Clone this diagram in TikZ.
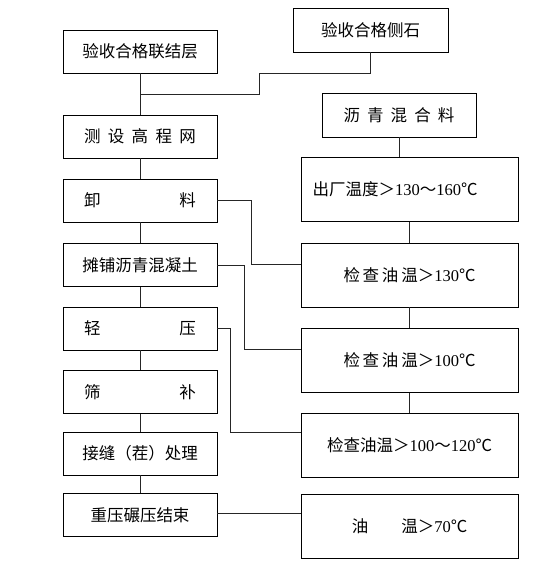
\documentclass[tikz,border=0pt]{standalone}
\usepackage{fontspec}
\setmainfont{Noto Sans CJK SC}
\newfontfamily\digits{Liberation Serif}
\usetikzlibrary{positioning, calc}

\begin{document}
\begin{tikzpicture}[x=1pt, y=-1pt,
    stepbox/.style={draw, line width=0.8pt, minimum width=154pt, minimum height=43pt,
                    inner sep=0pt, font=\fontsize{16.5}{19}\selectfont},
    checkbox/.style={draw, line width=0.8pt, minimum width=217pt, minimum height=64pt,
                     inner sep=0pt, font=\fontsize{16.5}{19}\selectfont},
    link/.style={line width=0.8pt, black!85}
  ]
    \useasboundingbox (0,0) rectangle (554,574);

    % left column: construction steps
    \node[stepbox] (b1) at (140,51.5)  {验收合格联结层};
    \node[stepbox] (b2) at (140,136.5) {\makebox[112pt][s]{测 设 高 程 网}};
    \node[stepbox] (b3) at (140,200.5) {\makebox[112pt][s]{卸 料}};
    \node[stepbox] (b4) at (140,265)   {摊铺沥青混凝土};
    \node[stepbox] (b5) at (140,328.5) {\makebox[112pt][s]{轻 压}};
    \node[stepbox] (b6) at (140,392)   {\makebox[112pt][s]{筛 补}};
    \node[stepbox] (b7) at (140,453.5) {接缝（茬）处理};
    \node[stepbox] (b8) at (140,515)   {重压碾压结束};

    % right column: material and temperature checks
    \node[stepbox, minimum width=155pt, minimum height=44pt] (cs) at (370.5,30) {验收合格侧石};
    \node[stepbox, minimum height=44pt] (lq) at (399,115) {\makebox[111pt][s]{沥 青 混 合 料}};
    \node[checkbox, text width=194pt, align=left] (r1) at (409.5,189.5)
      {出厂温度＞{\digits 130}～{\digits 160}℃};
    \node[checkbox] (r2) at (409.5,275)   {检\,查\,油\,温＞{\digits 130}℃};
    \node[checkbox] (r3) at (409.5,360.5) {检\,查\,油\,温＞{\digits 100}℃};
    \node[checkbox] (r4) at (409.5,445.5) {检查油温＞{\digits 100}～{\digits 120}℃};
    \node[checkbox] (r5) at (409.5,526)   {\makebox[66pt][s]{油 温}＞{\digits 70}℃};

    \coordinate (j1) at (140,94);
    \coordinate (k1) at (259,73);

    \draw[link] (b1) -- (b2);
    \draw[link] (b2) -- (b3);
    \draw[link] (b3) -- (b4);
    \draw[link] (b4) -- (b5);
    \draw[link] (b5) -- (b6);
    \draw[link] (b6) -- (b7);
    \draw[link] (b7) -- (b8);

    \draw[link] (cs.south) |- (k1) |- (j1);
    \draw[link] (lq.south) -- (lq.south |- r1.north);
    \draw[link] (r1) -- (r2);
    \draw[link] (r2) -- (r3);
    \draw[link] (r3) -- (r4);

    % side links join the checks a little above their middles
    \draw[link] (b3.east) -- ++(34,0) |- ([yshift=11pt]r2.west);
    \draw[link] (b4.east) -- ++(27,0) |- ([yshift=11.5pt]r3.west);
    \draw[link] (b5.east) -- ++(13,0) |- ([yshift=13.5pt]r4.west);
    \draw[link] ([yshift=2pt]b8.east) -- ([yshift=2pt]b8.east -| r5.west);
  \end{tikzpicture}
\end{document}
